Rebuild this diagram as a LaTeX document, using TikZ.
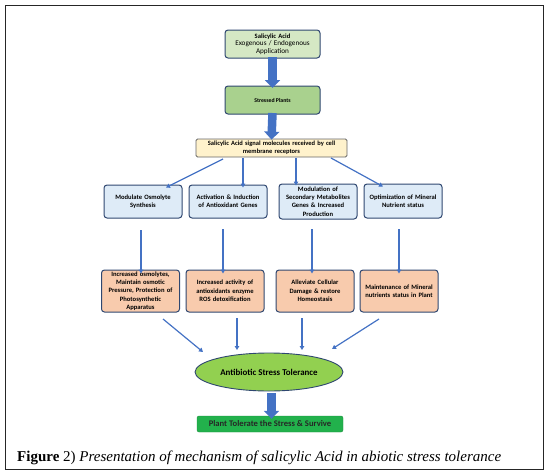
\documentclass[tikz,border=0pt]{standalone}
\usepackage{fontspec}
\setmainfont{Liberation Serif}
\newfontfamily\calibri{Carlito}
\usetikzlibrary{arrows.meta,shapes.geometric}
\definecolor{navy}{HTML}{2F4770}
\definecolor{arrowblue}{HTML}{4472C4}
\definecolor{lgreen}{HTML}{D5E8C4}
\definecolor{mgreen}{HTML}{A9D18E}
\definecolor{lyellow}{HTML}{FFF2CC}
\definecolor{lblue}{HTML}{DEEBF7}
\definecolor{peach}{HTML}{F8CBAD}
\definecolor{ellgreen}{HTML}{92D050}
\definecolor{dgreen}{HTML}{22B14C}
\begin{document}
\begin{tikzpicture}[x=1pt,y=-1pt,
  box/.style={draw=navy, line width=1pt, rounded corners=3pt, align=center,
    font=\calibri\bfseries\fontsize{6.6}{8.3}\selectfont, text=black, inner sep=1pt},
  bluebox/.style={box, fill=lblue, minimum width=78pt, minimum height=33pt, text width=76pt},
  peachbox/.style={box, fill=peach, minimum width=77pt, minimum height=42pt, text width=76pt},
  thin/.style={draw=arrowblue, line width=1.2pt, -{Triangle[length=4pt,width=4.5pt]}},
  fat/.style={draw=arrowblue, line width=8.5pt, -{Triangle[length=8pt,width=15pt]}},
]
\useasboundingbox (0,0) rectangle (547,474);
\draw[line width=0.9pt, black!85] (5,5) rectangle (543,469);

\node[box, fill=lgreen, minimum width=95pt, minimum height=28pt, text width=93pt, font=\calibri\bfseries\fontsize{6.6}{7.6}\selectfont] (sa) at (272.5,44)
  {Salicylic Acid\\ {\mdseries\fontsize{7.2}{7.8}\selectfont Exogenous / Endogenous\\ Application}};
\node[box, fill=mgreen, minimum width=95pt, minimum height=28pt, font=\calibri\bfseries\fontsize{5.8}{7}\selectfont] (sp) at (272.5,100) {Stressed Plants};
\node[box, fill=lyellow, draw=black!60, line width=0.8pt, rounded corners=1.5pt, minimum width=151pt, minimum height=18pt, text width=149pt, font=\calibri\bfseries\fontsize{6.5}{7.6}\selectfont] (sig) at (271.5,148)
  {Salicylic Acid signal molecules received by cell\\ membrane receptors};

\node[bluebox] (a1) at (143,201.5) {Modulate Osmolyte\\ Synthesis};
\node[bluebox] (b1) at (228,201.5) {Activation \& Induction\\ of Antioxidant Genes};
\node[bluebox, minimum height=35pt] (c1) at (318,201.5) {Modulation of\\ Secondary Metabolites\\ Genes \& Increased\\ Production};
\node[bluebox, minimum height=34pt] (d1) at (403,201) {Optimization of Mineral\\ Nutrient status};

\node[peachbox] (a2) at (140.5,291) {Increased osmolytes,\\ Maintain osmotic\\ Pressure, Protection of\\ Photosynthetic\\ Apparatus};
\node[peachbox] (b2) at (225,291) {Increased activity of\\ antioxidants enzyme\\ ROS detoxification};
\node[peachbox] (c2) at (315,291) {Alleviate Cellular\\ Damage \& restore\\ Homeostasis};
\node[peachbox] (d2) at (399,291) {Maintenance of Mineral\\ nutrients status in Plant};

\node[ellipse, draw=navy, line width=0.9pt, fill=ellgreen, minimum width=148pt, minimum height=38pt, inner sep=0pt,
  font=\calibri\bfseries\fontsize{8.9}{10}\selectfont] (tol) at (269,372) {Antibiotic Stress Tolerance};
\node[fill=dgreen, draw=dgreen!80!black, line width=0.4pt, rounded corners=2pt, minimum width=146pt, minimum height=16pt, inner sep=0pt,
  font=\calibri\bfseries\fontsize{8.6}{9}\selectfont, text=black!85] (fin) at (270,424) {Plant Tolerate the Stress \& Survive};

\draw[fat] ([yshift=1.5pt]sa.south) -- ([yshift=-2.5pt]sp.north);
\draw[fat] ([yshift=1.5pt]sp.south) -- ([yshift=-1pt]sig.north);
\draw[fat] (271.5,393) coordinate (f1) -- ([yshift=-3pt]fin.north -| f1);

\coordinate (s1) at (223,159); \coordinate (s2) at (243,158);
\coordinate (s3) at (296,158); \coordinate (s4) at (331,158);
\draw[thin] (s1) -- ([yshift=-3pt]a1.north -| 166,0);
\draw[thin] (s2) -- ([yshift=-3pt]b1.north -| s2);
\draw[thin] (s3) -- ([yshift=-2pt]c1.north -| s3);
\draw[thin] (s4) -- ([yshift=-3pt]d1.north -| 383,0);

\draw[thin] (141,230) -- ([yshift=-4pt]a2.north -| 141,0);
\draw[thin] (223,229) -- ([yshift=-4pt]b2.north -| 223,0);
\draw[thin] (312,229) -- ([yshift=-4pt]c2.north -| 312,0);
\draw[thin] (399,229) -- ([yshift=-4pt]d2.north -| 399,0);

\draw[thin] (163,319) -- (203,352);
\draw[thin] (237,318) -- (237,350);
\draw[thin] (302,318) -- (302,350);
\draw[thin] (379,319) -- (332,349);

\node[anchor=west, inner sep=0pt, font=\fontsize{15}{17}\selectfont] (cap) at (17,458)
  {\textbf{Figure} 2) \textit{Presentation of mechanism of salicylic Acid in abiotic stress tolerance}};
\end{tikzpicture}
\end{document}
